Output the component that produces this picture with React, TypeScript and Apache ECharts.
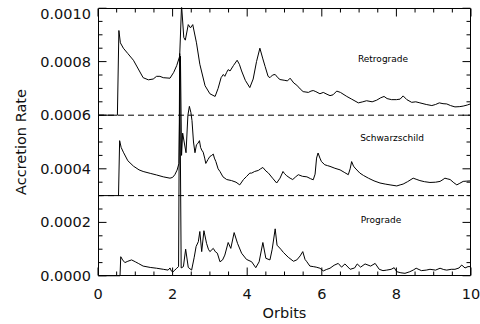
import React, { useEffect, useRef } from "react";
import * as echarts from "echarts";

const xTicks = [0, 2, 4, 6, 8, 10];
const yTickLabels = ["0.0000", "0.0002", "0.0004", "0.0006", "0.0008", "0.0010"];
const baselines = [0.0006, 0.0003];
const seriesNames = ["Retrograde", "Schwarzschild", "Prograde"];

const retrograde: [number, number][] = [
  [0, 0.0006], [0.52, 0.0006], [0.56, 0.000916], [0.6, 0.00087], [0.68, 0.00085], [0.8, 0.00083],
  [0.95, 0.000805], [1.05, 0.00078], [1.21, 0.00074], [1.35, 0.000732], [1.48, 0.000735], [1.57, 0.000745],
  [1.66, 0.000745], [1.75, 0.00074], [1.93, 0.000738], [2.03, 0.00076], [2.11, 0.000785], [2.19, 0.00082],
  [2.24, 0.00101], [2.3, 0.00089], [2.34, 0.00088], [2.42, 0.000938], [2.48, 0.000926], [2.54, 0.000938],
  [2.64, 0.00087], [2.73, 0.00079], [2.87, 0.00071], [3.0, 0.00068], [3.14, 0.00067], [3.22, 0.0007],
  [3.3, 0.00074], [3.36, 0.000752], [3.4, 0.000745], [3.45, 0.00076], [3.49, 0.00077], [3.54, 0.000765],
  [3.63, 0.000785], [3.73, 0.000805], [3.79, 0.00079], [3.85, 0.000765], [3.95, 0.00073], [4.07, 0.000703],
  [4.16, 0.000735], [4.25, 0.0008], [4.34, 0.00085], [4.42, 0.00081], [4.48, 0.000782], [4.56, 0.000745],
  [4.61, 0.00074], [4.68, 0.00075], [4.75, 0.000752], [4.82, 0.00074], [4.88, 0.000733], [5.01, 0.00073],
  [5.08, 0.000728], [5.15, 0.000738], [5.25, 0.00072], [5.33, 0.000712], [5.42, 0.000698], [5.5, 0.000688],
  [5.64, 0.000685], [5.71, 0.00069], [5.77, 0.000692], [5.84, 0.000688], [5.95, 0.00068], [6.04, 0.000685],
  [6.14, 0.000678], [6.22, 0.000673], [6.3, 0.000676], [6.4, 0.00069], [6.5, 0.000685], [6.67, 0.00067],
  [6.8, 0.00066], [6.98, 0.000646], [7.1, 0.00065], [7.2, 0.000654], [7.35, 0.00065], [7.47, 0.000656],
  [7.58, 0.000665], [7.67, 0.00067], [7.75, 0.000662], [7.87, 0.000658], [8.0, 0.000658], [8.1, 0.00066],
  [8.18, 0.000672], [8.28, 0.000658], [8.41, 0.000648], [8.52, 0.00065], [8.63, 0.000646], [8.8, 0.00064],
  [8.95, 0.000636], [9.05, 0.00064], [9.15, 0.000646], [9.25, 0.000643], [9.35, 0.000642], [9.45, 0.000636],
  [9.57, 0.000631], [9.7, 0.000632], [9.79, 0.000634], [9.9, 0.000638], [10, 0.000643],
];

const schwarzschild: [number, number][] = [
  [0, 0.0003], [0.55, 0.0003], [0.58, 0.000505], [0.62, 0.00048], [0.68, 0.000462], [0.8, 0.00043],
  [0.95, 0.00041], [1.1, 0.000396], [1.21, 0.00039], [1.4, 0.000383], [1.57, 0.000377], [1.75, 0.00037],
  [1.93, 0.000365], [2.0, 0.000368], [2.06, 0.000378], [2.12, 0.000395], [2.17, 0.00042], [2.21, 0.00082],
  [2.24, 0.00045], [2.27, 0.000533], [2.31, 0.0005], [2.36, 0.00046], [2.41, 0.0006], [2.45, 0.000633],
  [2.49, 0.00061], [2.52, 0.00058], [2.56, 0.0005], [2.6, 0.00046], [2.64, 0.00049], [2.68, 0.000495],
  [2.72, 0.000505], [2.75, 0.00048], [2.78, 0.00047], [2.82, 0.000462], [2.86, 0.00044], [2.89, 0.00042],
  [2.95, 0.000435], [3.0, 0.000446], [3.05, 0.00045], [3.09, 0.000455], [3.12, 0.00044], [3.16, 0.000427],
  [3.22, 0.0004], [3.27, 0.00039], [3.35, 0.00037], [3.45, 0.00036], [3.58, 0.000356], [3.7, 0.00035],
  [3.8, 0.00034], [3.9, 0.00036], [3.98, 0.000371], [4.07, 0.000384], [4.12, 0.000384], [4.2, 0.00039],
  [4.3, 0.000394], [4.36, 0.0004], [4.42, 0.000405], [4.5, 0.000392], [4.57, 0.000384], [4.68, 0.000365],
  [4.79, 0.000347], [4.88, 0.000365], [4.96, 0.00039], [5.0, 0.000382], [5.06, 0.000374], [5.15, 0.000365],
  [5.22, 0.00036], [5.3, 0.00037], [5.37, 0.000378], [5.48, 0.000372], [5.6, 0.00037], [5.7, 0.000363],
  [5.77, 0.000359], [5.82, 0.00038], [5.86, 0.00044], [5.9, 0.000459], [5.95, 0.00044], [5.99, 0.000427],
  [6.08, 0.000415], [6.15, 0.000412], [6.22, 0.000409], [6.35, 0.000402], [6.49, 0.000396], [6.6, 0.000387],
  [6.71, 0.000378], [6.76, 0.0004], [6.8, 0.000427], [6.85, 0.00041], [6.89, 0.000403], [7.02, 0.000384],
  [7.12, 0.000375], [7.25, 0.000365], [7.4, 0.000355], [7.56, 0.000347], [7.7, 0.000343], [7.83, 0.00034],
  [8.01, 0.000336], [8.1, 0.00034], [8.18, 0.000343], [8.3, 0.000352], [8.45, 0.000365], [8.55, 0.00036],
  [8.63, 0.000356], [8.75, 0.000352], [8.9, 0.000349], [9.05, 0.00035], [9.17, 0.000353], [9.25, 0.00036],
  [9.3, 0.000365], [9.38, 0.000362], [9.44, 0.00036], [9.54, 0.000348], [9.62, 0.00034], [9.7, 0.000346],
  [9.79, 0.000353], [9.88, 0.000354], [10, 0.000355],
];

const prograde: [number, number][] = [
  [0, 0], [0.59, 0], [0.61, 0.000072], [0.66, 0.00006], [0.72, 0.00005], [0.8, 0.000055], [0.9, 0.00006],
  [1.0, 0.000053], [1.08, 0.000047], [1.21, 0.000037], [1.4, 0.000032], [1.57, 0.000029], [1.75, 0.000025],
  [1.88, 0.000022], [1.93, 0.00003], [1.97, 0.000018], [2.0, 0.000014], [2.06, 0.000022], [2.11, 0.000029],
  [2.16, 0.000035], [2.19, 0.00083], [2.23, 0.00003], [2.29, 0.000035], [2.35, 0.0001], [2.42, 0.000032],
  [2.51, 0.000022], [2.58, 0.00007], [2.63, 0.00011], [2.69, 0.000128], [2.73, 0.000166], [2.78, 0.000091],
  [2.84, 0.000169], [2.91, 0.000122], [2.96, 0.0001], [3.0, 0.000091], [3.09, 0.000103], [3.15, 0.00009],
  [3.2, 0.000085], [3.27, 0.000053], [3.34, 0.00006], [3.4, 0.000078], [3.49, 0.000125], [3.56, 0.000103],
  [3.65, 0.000162], [3.74, 0.000122], [3.85, 0.000085], [3.98, 0.000062], [4.12, 0.000053], [4.23, 0.000031],
  [4.32, 0.000053], [4.42, 0.000125], [4.5, 0.000066], [4.61, 0.00006], [4.67, 0.0001], [4.75, 0.000176],
  [4.8, 0.000115], [4.9, 0.0001], [4.97, 0.000088], [5.1, 0.00007], [5.24, 0.000055], [5.33, 0.00006],
  [5.42, 0.000075], [5.49, 0.000091], [5.55, 0.000062], [5.6, 0.000053], [5.68, 0.000037], [5.77, 0.000035],
  [5.85, 0.000033], [5.95, 0.000029], [6.04, 0.000019], [6.12, 0.000024], [6.22, 0.000029], [6.33, 0.00004],
  [6.44, 0.000047], [6.53, 0.000033], [6.62, 0.000045], [6.76, 0.000025], [6.88, 0.00003], [6.95, 0.000045],
  [7.04, 0.000033], [7.16, 0.000045], [7.31, 0.000037], [7.43, 0.000047], [7.54, 0.000025], [7.64, 0.00002],
  [7.74, 0.000022], [7.86, 0.000025], [7.94, 0.000031], [8.01, 0.000016], [8.12, 0.000012], [8.23, 0.00001],
  [8.36, 0.000016], [8.45, 0.000022], [8.53, 0.000029], [8.67, 0.00002], [8.8, 0.000022], [8.9, 0.000025],
  [9.05, 0.000022], [9.17, 0.000029], [9.27, 0.000024], [9.35, 0.000022], [9.47, 0.000025], [9.57, 0.000025],
  [9.68, 0.00003], [9.75, 0.000041], [9.84, 0.00003], [9.92, 0.000035], [10, 0.000035],
];

const X_MIN = 0, X_MAX = 10, X_INTERVAL = 2;
const Y_MIN = 0, Y_MAX = 0.001, Y_INTERVAL = 0.0002;
const MINOR_SPLIT = 4;

const GRID = { left: 98, right: 9, top: 8, bottom: 48 };
const W = 480, H = 324;
const MAJOR_LEN = 8, MINOR_LEN = 4;

const FONT = "DejaVu Sans";
const INK = "#111";

function tickValues(min: number, max: number, interval: number) {
  const out: { v: number; major: boolean }[] = [];
  const step = interval / MINOR_SPLIT;
  const n = Math.round((max - min) / step);
  for (let i = 0; i <= n; i++) out.push({ v: min + i * step, major: i % MINOR_SPLIT === 0 });
  return out;
}

export default function App() {
  const ref = useRef<HTMLDivElement>(null);
  useEffect(() => {
    document.body.style.margin = "0";
    const chart = echarts.init(ref.current!, undefined, { renderer: "svg" });

    const gridW = W - GRID.left - GRID.right;
    const gridH = H - GRID.top - GRID.bottom;
    const pxX = (X_MAX - X_MIN) / gridW;
    const pxY = (Y_MAX - Y_MIN) / gridH;
    const L = X_MIN + 0.5 * pxX, R = X_MAX - 0.5 * pxX;
    const B = Y_MIN + 0.5 * pxY, T = Y_MAX - 0.5 * pxY;

    const strokeSeries = (data: number[][]) => ({
      type: "line",
      data,
      symbol: "none",
      clip: true,
      z: 3,
      lineStyle: { color: "#000", width: 1 },
    });

    const frameAndTicks: any[] = [strokeSeries([[L, B], [R, B], [R, T], [L, T], [L, B]])];
    for (const t of tickValues(X_MIN, X_MAX, X_INTERVAL)) {
      const len = t.major ? MAJOR_LEN : MINOR_LEN;
      frameAndTicks.push(strokeSeries([[t.v, B], [t.v, B + len * pxY]]));
      frameAndTicks.push(strokeSeries([[t.v, T], [t.v, T - len * pxY]]));
    }
    for (const t of tickValues(Y_MIN, Y_MAX, Y_INTERVAL)) {
      const len = t.major ? MAJOR_LEN : MINOR_LEN;
      frameAndTicks.push(strokeSeries([[L, t.v], [L + len * pxX, t.v]]));
      frameAndTicks.push(strokeSeries([[R, t.v], [R - len * pxX, t.v]]));
    }

    const lineSeries = (name: string, data: [number, number][]) => ({
      name,
      type: "line",
      data,
      symbol: "none",
      clip: true,
      z: 3,
      lineStyle: { color: "#000", width: 1 },
    });
    const dashed = baselines.map((b) => ({
      type: "line",
      data: [[X_MIN, b], [X_MAX, b]],
      symbol: "none",
      clip: true,
      z: 2,
      lineStyle: { color: "#000", width: 1, type: [6, 4] },
    }));

    const hidden = {
      axisLine: { show: false },
      axisTick: { show: false },
      minorTick: { show: false },
      splitLine: { show: false },
      minorSplitLine: { show: false },
    };

    chart.setOption({
      animation: false,
      grid: { ...GRID, outerBoundsMode: "none" },
      xAxis: {
        type: "value",
        min: X_MIN,
        max: X_MAX,
        interval: X_INTERVAL,
        ...hidden,
        axisLabel: {
          color: INK, fontFamily: FONT, fontSize: 14.5, margin: 10,
          formatter: (v: number) => (xTicks.includes(v) ? String(v) : ""),
        },
        name: "Orbits",
        nameLocation: "middle",
        nameGap: 29,
        nameTextStyle: { color: INK, fontFamily: FONT, fontSize: 14.5 },
      },
      yAxis: {
        type: "value",
        min: Y_MIN,
        max: Y_MAX,
        interval: Y_INTERVAL,
        ...hidden,
        axisLabel: {
          color: INK, fontFamily: FONT, fontSize: 14.5, margin: 7,
          formatter: (v: number) => {
            const idx = Math.round(v / Y_INTERVAL);
            const s = yTickLabels[idx] ?? v.toFixed(4);
            return idx === yTickLabels.length - 1 ? "{t|" + s + "}" : s;
          },
          rich: { t: { color: INK, fontFamily: FONT, fontSize: 14.5, padding: [12, 0, 0, 0] } },
        },
        name: "Accretion Rate",
        nameLocation: "middle",
        nameGap: 70,
        nameTextStyle: { color: INK, fontFamily: FONT, fontSize: 14.5 },
      },
      series: [
        ...dashed,
        lineSeries(seriesNames[0], retrograde),
        lineSeries(seriesNames[1], schwarzschild),
        lineSeries(seriesNames[2], prograde),
        ...frameAndTicks,
      ],
      graphic: [
        { type: "text", x: 383, y: 59, style: { text: seriesNames[0], fontFamily: FONT, fontSize: 9, fill: "#000", align: "center", verticalAlign: "middle" } },
        { type: "text", x: 392, y: 138, style: { text: seriesNames[1], fontFamily: FONT, fontSize: 9, fill: "#000", align: "center", verticalAlign: "middle" } },
        { type: "text", x: 381, y: 220, style: { text: seriesNames[2], fontFamily: FONT, fontSize: 9, fill: "#000", align: "center", verticalAlign: "middle" } },
      ],
    });
    return () => chart.dispose();
  }, []);
  return <div ref={ref} style={{ position: "absolute", left: 0, top: 0, width: W, height: H }} />;
}
